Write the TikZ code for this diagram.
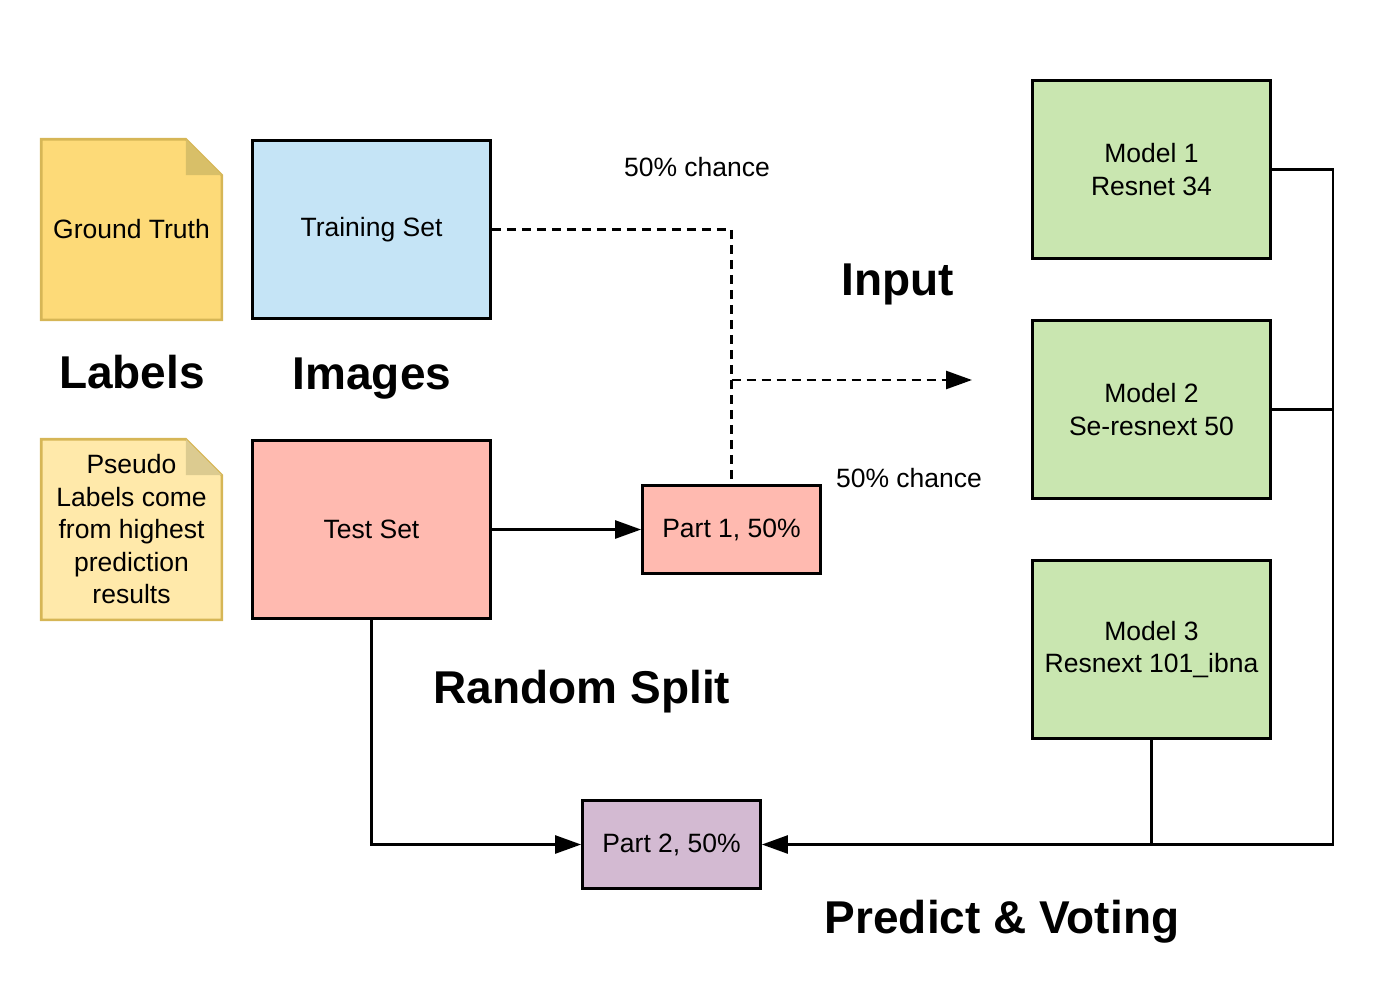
\documentclass[tikz,border=0pt]{standalone}
\usepackage{fontspec}
\setmainfont{Liberation Sans}
\usetikzlibrary{arrows.meta}

\definecolor{gtfill}{HTML}{FDDA78}
\definecolor{gtfold}{HTML}{D8BF68}
\definecolor{psfill}{HTML}{FFE9AA}
\definecolor{psfold}{HTML}{DCCB90}
\definecolor{notebd}{HTML}{D6B656}
\definecolor{trainfill}{HTML}{C5E4F6}
\definecolor{testfill}{HTML}{FFBAB0}
\definecolor{modelfill}{HTML}{C9E6B0}
\definecolor{partfill}{HTML}{D3BAD2}

\tikzset{
  box/.style={rectangle, draw=black, line width=2.8pt, align=center, inner sep=0pt},
  note/.style={rectangle, minimum width=178pt, minimum height=178pt, align=center, inner sep=0pt},
  txt/.style={font=\fontsize{26.5}{32.5}\selectfont},
  title/.style={font=\fontsize{46}{55}\selectfont\bfseries},
}

\begin{document}
\begin{tikzpicture}[x=1pt, y=-1pt, >={Triangle[length=26pt,width=18pt]}, line width=2.6pt, txt]
\useasboundingbox (0,0) rectangle (1396,990);

% notes
\node (gt) at (131.5,229.5) [note] {};
\filldraw[draw=notebd, fill=gtfill] (gt.south west) -- (gt.north west) -- ([xshift=-36pt]gt.north east) -- ([yshift=-36pt]gt.north east) -- (gt.south east) -- cycle;
\fill[gtfold] ([xshift=-36pt]gt.north east) -- ([yshift=-36pt]gt.north east) -- ([xshift=-36pt,yshift=-36pt]gt.north east) -- cycle;
\node at (gt) {Ground Truth};

\node (ps) at (131.5,529.5) [note] {};
\filldraw[draw=notebd, fill=psfill] (ps.south west) -- (ps.north west) -- ([xshift=-36pt]ps.north east) -- ([yshift=-36pt]ps.north east) -- (ps.south east) -- cycle;
\fill[psfold] ([xshift=-36pt]ps.north east) -- ([yshift=-36pt]ps.north east) -- ([xshift=-36pt,yshift=-36pt]ps.north east) -- cycle;
\node at (ps) [align=center] {Pseudo\\Labels come\\from highest\\prediction\\results};

% data boxes
\node (train) at (371.5,229.5) [box, fill=trainfill, minimum width=238pt, minimum height=178pt] {Training Set};
\node (test) at (371.5,529.5) [box, fill=testfill, minimum width=238pt, minimum height=178pt] {Test Set};
\node (part1) at (731.5,529.5) [box, fill=testfill, minimum width=178pt, minimum height=88pt] {Part 1, 50\%};
\node (part2) at (671.5,844.5) [box, fill=partfill, minimum width=178pt, minimum height=88pt] {Part 2, 50\%};

% models
\node (m1) at (1151.5,169.5) [box, fill=modelfill, minimum width=238pt, minimum height=178pt] {Model 1\\Resnet 34};
\node (m2) at (1151.5,409.5) [box, fill=modelfill, minimum width=238pt, minimum height=178pt] {Model 2\\Se-resnext 50};
\node (m3) at (1151.5,649.5) [box, fill=modelfill, minimum width=238pt, minimum height=178pt] {Model 3\\Resnext 101\_ibna};

% labels
\node (lab) at (132,372) [title] {Labels};
\node (img) at (372,379) [title] {Images};
\node (inp) at (898,284) [title] {Input};
\node (rs) at (582,692) [title] {Random Split};
\node (pv) at (1002,922) [title] {Predict \& Voting};
\node (c1) at (697,167) {50\% chance};
\node (c2) at (909,478) {50\% chance};

\coordinate (fork) at (731.5,380);
\coordinate (inEnd) at (972,380);
\coordinate (bus) at (1333,844.5);

\draw[dash pattern=on 9pt off 6pt] (train) -| (part1);
\draw[->, dash pattern=on 9pt off 6pt] (fork) -- (inEnd);
\draw[->] (test) -- (part1);
\draw[->] (test) |- (part2);
\draw[->] (m1) -| (bus) -- (part2);
\draw (m2) -| (bus);
\draw (m3) -- (m3 |- bus);
\end{tikzpicture}
\end{document}
